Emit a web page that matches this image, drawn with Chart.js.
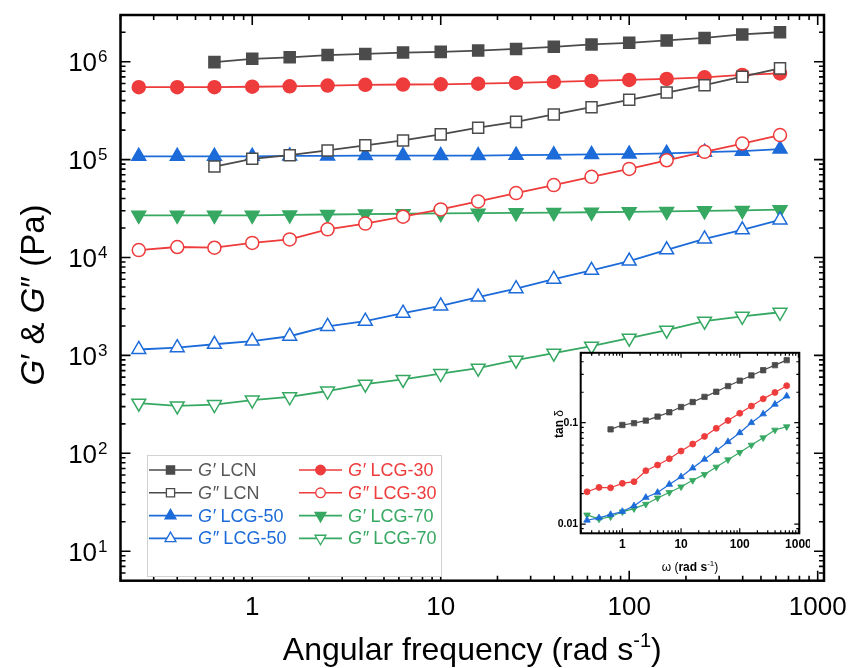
<!DOCTYPE html>
<html>
<head>
<meta charset="utf-8">
<script src="https://cdn.jsdelivr.net/npm/chart.js@4.4.1/dist/chart.umd.min.js"></script>
<style>
body{margin:0;background:#fff}
#wrap{position:relative;width:854px;height:668px}
#main{position:absolute;left:0;top:0}
#inset{position:absolute;left:540px;top:348px}
</style>
</head>
<body>
<div id="wrap">
<canvas id="main" width="854" height="668"></canvas>
<canvas id="inset" width="270" height="230"></canvas>
</div>
<script>
const FONT = '"Liberation Sans", Arial, sans-serif'

// angular frequency (rad s-1)
const freq = [0.25, 0.4, 0.63, 1, 1.58, 2.51, 3.98, 6.31, 10, 15.8, 25.1, 39.8, 63.1, 100, 158, 251, 398, 631]

// G' and G'' (Pa)
const gpLCN    = [null, null, 9.9e5, 1.07e6, 1.11e6, 1.17e6, 1.2e6, 1.24e6, 1.26e6, 1.3e6, 1.35e6, 1.42e6, 1.5e6, 1.56e6, 1.65e6, 1.75e6, 1.9e6, 2.0e6]
const gppLCN   = [null, null, 8.5e4, 1.02e5, 1.11e5, 1.24e5, 1.4e5, 1.57e5, 1.81e5, 2.12e5, 2.43e5, 2.89e5, 3.43e5, 4.08e5, 4.84e5, 5.75e5, 7.03e5, 8.55e5]
const gpLCG30  = [5.5e5, 5.5e5, 5.5e5, 5.55e5, 5.6e5, 5.7e5, 5.8e5, 5.85e5, 5.88e5, 5.97e5, 6.07e5, 6.21e5, 6.36e5, 6.51e5, 6.67e5, 6.93e5, 7.32e5, 7.6e5]
const gppLCG30 = [1.19e4, 1.28e4, 1.26e4, 1.41e4, 1.53e4, 1.94e4, 2.22e4, 2.61e4, 3.1e4, 3.74e4, 4.55e4, 5.49e4, 6.67e4, 8.04e4, 9.84e4, 1.2e5, 1.46e5, 1.78e5]
const gpLCG50  = [1.08e5, 1.08e5, 1.08e5, 1.08e5, 1.09e5, 1.09e5, 1.1e5, 1.1e5, 1.1e5, 1.1e5, 1.11e5, 1.12e5, 1.13e5, 1.14e5, 1.16e5, 1.19e5, 1.22e5, 1.28e5]
const gppLCG50 = [1150, 1200, 1300, 1400, 1570, 1980, 2240, 2700, 3200, 3940, 4800, 6000, 7400, 9200, 12000, 15500, 19200, 24200]
const gpLCG70  = [2.7e4, 2.7e4, 2.7e4, 2.7e4, 2.72e4, 2.75e4, 2.78e4, 2.8e4, 2.82e4, 2.84e4, 2.86e4, 2.88e4, 2.9e4, 2.93e4, 2.96e4, 3.0e4, 3.03e4, 3.08e4]
const gppLCG70 = [325, 305, 315, 350, 378, 433, 509, 568, 653, 741, 895, 1055, 1244, 1500, 1812, 2240, 2510, 2760]

// inset: tan delta
const tanLCN   = [null, null, 0.086, 0.095, 0.099, 0.105, 0.115, 0.127, 0.143, 0.16, 0.18, 0.202, 0.23, 0.26, 0.293, 0.33, 0.37, 0.415]
const tanLCG30 = [0.0208, 0.023, 0.0228, 0.0252, 0.0262, 0.0336, 0.0382, 0.0441, 0.0525, 0.0616, 0.0733, 0.088, 0.105, 0.124, 0.146, 0.172, 0.199, 0.232]
const tanLCG50 = [0.0109, 0.0115, 0.0124, 0.0133, 0.0151, 0.0183, 0.0205, 0.0246, 0.0293, 0.0357, 0.0435, 0.053, 0.0649, 0.0796, 0.1, 0.122, 0.152, 0.183]
const tanLCG70 = [0.0123, 0.0112, 0.0118, 0.0132, 0.0142, 0.0157, 0.0181, 0.0205, 0.0233, 0.027, 0.0309, 0.0365, 0.0431, 0.0509, 0.0602, 0.0711, 0.0847, 0.0914]

const sampleNames = ['LCN', 'LCG-30', 'LCG-50', 'LCG-70']

const GRAY = '#4b4b4b', RED = '#ee3b3b', BLUE = '#1c6bd9', GREEN = '#36a862'
const TEXTCOL = {LCN: '#585858', 'LCG-30': RED, 'LCG-50': BLUE, 'LCG-70': GREEN}

function pts(ys){
    return freq.map((x,i)=>({x, y: ys[i]})).filter(p=>p.y!=null)
}

function logTicks(min, max){
    const major = [], minor = []
    for(let e=Math.floor(Math.log10(min)); e<=Math.ceil(Math.log10(max)); e++){
        for(let m=1; m<10; m++){
            const v = m*Math.pow(10,e)
            if(v < min*0.999 || v > max*1.001) continue
            ;(m===1 ? major : minor).push(v)
        }
    }
    return {major, minor}
}

function marker(ctx, style, x, y, r, rot){
    ctx.beginPath()
    if(style==='rect'){
        const s = r*Math.SQRT1_2
        ctx.rect(x-s, y-s, 2*s, 2*s)
    } else if(style==='circle'){
        ctx.arc(x, y, r, 0, Math.PI*2)
    } else {
        let rad = rot ? Math.PI : 0
        ctx.moveTo(x + Math.sin(rad)*r, y - Math.cos(rad)*r)
        rad += 2*Math.PI/3
        ctx.lineTo(x + Math.sin(rad)*r, y - Math.cos(rad)*r)
        rad += 2*Math.PI/3
        ctx.lineTo(x + Math.sin(rad)*r, y - Math.cos(rad)*r)
        ctx.closePath()
    }
    ctx.fill()
    ctx.stroke()
}

// text made of parts: {t, font}
function rich(ctx, parts, x, y, align){
    let w = 0
    parts.forEach(p=>{ ctx.font = p.font; w += ctx.measureText(p.t).width })
    let cx = align==='center' ? x - w/2 : x
    ctx.textAlign = 'left'
    parts.forEach(p=>{
        ctx.font = p.font
        ctx.fillText(p.t, cx, y + (p.dy||0))
        cx += ctx.measureText(p.t).width
    })
}

// main series: G' filled, G'' open
const mainSeries = [
    {name:'LCN',    prime:'′', data:gpLCN,    color:GRAY,  style:'rect',     open:false},
    {name:'LCN',    prime:'″', data:gppLCN,   color:GRAY,  style:'rect',     open:true},
    {name:'LCG-30', prime:'′', data:gpLCG30,  color:RED,   style:'circle',   open:false},
    {name:'LCG-30', prime:'″', data:gppLCG30, color:RED,   style:'circle',   open:true},
    {name:'LCG-50', prime:'′', data:gpLCG50,  color:BLUE,  style:'triangle', open:false},
    {name:'LCG-50', prime:'″', data:gppLCG50, color:BLUE,  style:'triangle', open:true},
    {name:'LCG-70', prime:'′', data:gpLCG70,  color:GREEN, style:'triangle', open:false, down:true},
    {name:'LCG-70', prime:'″', data:gppLCG70, color:GREEN, style:'triangle', open:true,  down:true}
]
const mainRadius = {rect:7.8, circle:6.5, triangle:8}

const mainDeco = {
    id:'mainDeco',
    afterDraw(chart){
        const {ctx, chartArea:a, scales:{x,y}} = chart
        const xt = logTicks(x.min, x.max), yt = logTicks(y.min, y.max)
        ctx.save()
        ctx.strokeStyle = '#000'
        ctx.lineWidth = 1.6
        ctx.beginPath()
        xt.major.forEach(v=>{ const p=x.getPixelForValue(v); ctx.moveTo(p,a.bottom); ctx.lineTo(p,a.bottom-10); ctx.moveTo(p,a.top); ctx.lineTo(p,a.top+10) })
        xt.minor.forEach(v=>{ const p=x.getPixelForValue(v); ctx.moveTo(p,a.bottom); ctx.lineTo(p,a.bottom-5); ctx.moveTo(p,a.top); ctx.lineTo(p,a.top+5) })
        yt.major.forEach(v=>{ const p=y.getPixelForValue(v); ctx.moveTo(a.left,p); ctx.lineTo(a.left+10,p); ctx.moveTo(a.right,p); ctx.lineTo(a.right-10,p) })
        yt.minor.forEach(v=>{ const p=y.getPixelForValue(v); ctx.moveTo(a.left,p); ctx.lineTo(a.left+5,p); ctx.moveTo(a.right,p); ctx.lineTo(a.right-5,p) })
        ctx.stroke()
        ctx.lineWidth = 2.5
        ctx.strokeRect(a.left, a.top, a.right-a.left, a.bottom-a.top)

        ctx.fillStyle = '#000'
        ctx.textBaseline = 'alphabetic'
        ctx.font = `26px ${FONT}`
        ctx.textAlign = 'center'
        xt.major.forEach(v=> ctx.fillText(String(v), x.getPixelForValue(v), a.bottom+34))
        yt.major.forEach(v=>{
            const e = String(Math.round(Math.log10(v)))
            const p = y.getPixelForValue(v)
            ctx.textAlign = 'right'
            ctx.font = `17px ${FONT}`
            const sw = ctx.measureText(e).width
            ctx.fillText(e, a.left-13, p+0.5)
            ctx.font = `26px ${FONT}`
            ctx.fillText('10', a.left-14-sw, p+9.5)
        })

        // axis titles
        const f = `32px ${FONT}`
        rich(ctx, [{t:'Angular frequency (rad s', font:f}, {t:'-1', font:`20px ${FONT}`, dy:-13}, {t:')', font:f}], (a.left+a.right)/2, 660, 'center')
        const fy = `33px ${FONT}`, fyi = `italic 33px ${FONT}`
        ctx.save()
        ctx.translate(44, 295)
        ctx.rotate(-Math.PI/2)
        rich(ctx, [{t:'G', font:fyi}, {t:'′ & ', font:fy}, {t:'G', font:fyi}, {t:'″ (Pa)', font:fy}], 0, 0, 'center')
        ctx.restore()

        // legend box
        ctx.fillStyle = '#fff'
        ctx.fillRect(147.5, 455.5, 294, 121)
        ctx.strokeStyle = '#d2d2d2'
        ctx.lineWidth = 1
        ctx.strokeRect(147.5, 455.5, 294, 121)
        const order = [0,1,4,5,2,3,6,7]
        order.forEach((si, k)=>{
            const s = mainSeries[si]
            const col = k<4 ? 0 : 1
            const row = k%4
            const x0 = col===0 ? 149 : 299
            const yy = 470 + row*22.8
            ctx.strokeStyle = s.color
            ctx.lineWidth = 1.6
            ctx.beginPath(); ctx.moveTo(x0, yy); ctx.lineTo(x0+43, yy); ctx.stroke()
            ctx.fillStyle = s.open ? '#fff' : s.color
            ctx.lineWidth = 1.3
            const lr = {rect:5.8, circle:4.8, triangle:6.3}[s.style]
            marker(ctx, s.style, x0+21.5, yy, lr, s.down)
            ctx.fillStyle = TEXTCOL[s.name]
            ctx.textBaseline = 'middle'
            rich(ctx, [{t:'G'+s.prime, font:`italic 18px ${FONT}`}, {t:' '+s.name, font:`18px ${FONT}`}], x0+49, yy+1, 'left')
        })
        ctx.restore()
    }
}

new Chart(document.getElementById('main'), {
    type:'scatter',
    data:{
        datasets: mainSeries.map(s=>({
            label: 'G' + s.prime + ' ' + s.name,
            data: pts(s.data),
            showLine: true,
            borderColor: s.color,
            borderWidth: 1.8,
            pointStyle: s.style,
            pointRadius: mainRadius[s.style],
            pointRotation: s.down ? 180 : 0,
            pointBackgroundColor: s.open ? '#fff' : s.color,
            pointBorderColor: s.color,
            pointBorderWidth: 1.5
        }))
    },
    options:{
        responsive:false,
        animation:false,
        devicePixelRatio:1,
        layout:{padding:{left:120.5, top:15, right:30, bottom:87.3}},
        plugins:{legend:{display:false}, tooltip:{enabled:false}},
        scales:{
            x:{type:'logarithmic', min:0.2, max:1080, display:false},
            y:{type:'logarithmic', min:5, max:3e6, display:false}
        }
    },
    plugins:[mainDeco]
})

// inset chart
const insetSeries = [
    {data:tanLCN,   color:GRAY,  style:'rect',     r:3.8},
    {data:tanLCG30, color:RED,   style:'circle',   r:3},
    {data:tanLCG50, color:BLUE,  style:'triangle', r:3.8},
    {data:tanLCG70, color:GREEN, style:'triangle', r:3.8, down:true}
]

const insetDeco = {
    id:'insetDeco',
    afterDraw(chart){
        const {ctx, chartArea:a, scales:{x,y}} = chart
        const xt = logTicks(x.min, x.max), yt = logTicks(y.min, y.max)
        ctx.save()
        ctx.strokeStyle = '#000'
        ctx.lineWidth = 1.2
        ctx.beginPath()
        xt.major.forEach(v=>{ const p=x.getPixelForValue(v); ctx.moveTo(p,a.bottom); ctx.lineTo(p,a.bottom-5); ctx.moveTo(p,a.top); ctx.lineTo(p,a.top+5) })
        xt.minor.forEach(v=>{ const p=x.getPixelForValue(v); ctx.moveTo(p,a.bottom); ctx.lineTo(p,a.bottom-3); ctx.moveTo(p,a.top); ctx.lineTo(p,a.top+3) })
        yt.major.forEach(v=>{ const p=y.getPixelForValue(v); ctx.moveTo(a.left,p); ctx.lineTo(a.left+5,p); ctx.moveTo(a.right,p); ctx.lineTo(a.right-5,p) })
        yt.minor.forEach(v=>{ const p=y.getPixelForValue(v); ctx.moveTo(a.left,p); ctx.lineTo(a.left+3,p); ctx.moveTo(a.right,p); ctx.lineTo(a.right-3,p) })
        ctx.stroke()
        ctx.lineWidth = 2
        ctx.strokeRect(a.left, a.top, a.right-a.left, a.bottom-a.top)

        ctx.fillStyle = '#000'
        ctx.font = `bold 12px ${FONT}`
        ctx.textBaseline = 'alphabetic'
        ctx.textAlign = 'center'
        xt.major.forEach(v=> ctx.fillText(String(v), x.getPixelForValue(v), a.bottom+15))
        ctx.font = `bold 10.5px ${FONT}`
        ctx.textAlign = 'right'
        ctx.textBaseline = 'middle'
        yt.major.forEach(v=> ctx.fillText(String(v), a.left-2.5, y.getPixelForValue(v)))

        ctx.textBaseline = 'alphabetic'
        rich(ctx, [{t:'ω (', font:`12px ${FONT}`}, {t:'rad s', font:`bold 12px ${FONT}`}, {t:'-1', font:`8px ${FONT}`, dy:-5}, {t:')', font:`12px ${FONT}`}], (a.left+a.right)/2, a.bottom+38, 'center')
        ctx.save()
        ctx.translate(22.5, 76)
        ctx.rotate(-Math.PI/2)
        rich(ctx, [{t:'tan ', font:`bold 12px ${FONT}`}, {t:'δ', font:`12px ${FONT}`}], 0, 0, 'center')
        ctx.restore()
        ctx.restore()
    }
}

new Chart(document.getElementById('inset'), {
    type:'scatter',
    data:{
        datasets: insetSeries.map((s,i)=>({
            label: sampleNames[i],
            data: pts(s.data),
            showLine: true,
            borderColor: s.color,
            borderWidth: 1.2,
            pointStyle: s.style,
            pointRadius: s.r,
            pointRotation: s.down ? 180 : 0,
            pointBackgroundColor: s.color,
            pointBorderColor: s.color,
            pointBorderWidth: 0.8
        }))
    },
    options:{
        responsive:false,
        animation:false,
        devicePixelRatio:1,
        layout:{padding:{left:40.7, top:4.7, right:10.7, bottom:44.7}},
        plugins:{legend:{display:false}, tooltip:{enabled:false}},
        scales:{
            x:{type:'logarithmic', min:0.195, max:1035, display:false},
            y:{type:'logarithmic', min:0.0081, max:0.49, display:false}
        }
    },
    plugins:[insetDeco]
})
</script>
</body>
</html>
